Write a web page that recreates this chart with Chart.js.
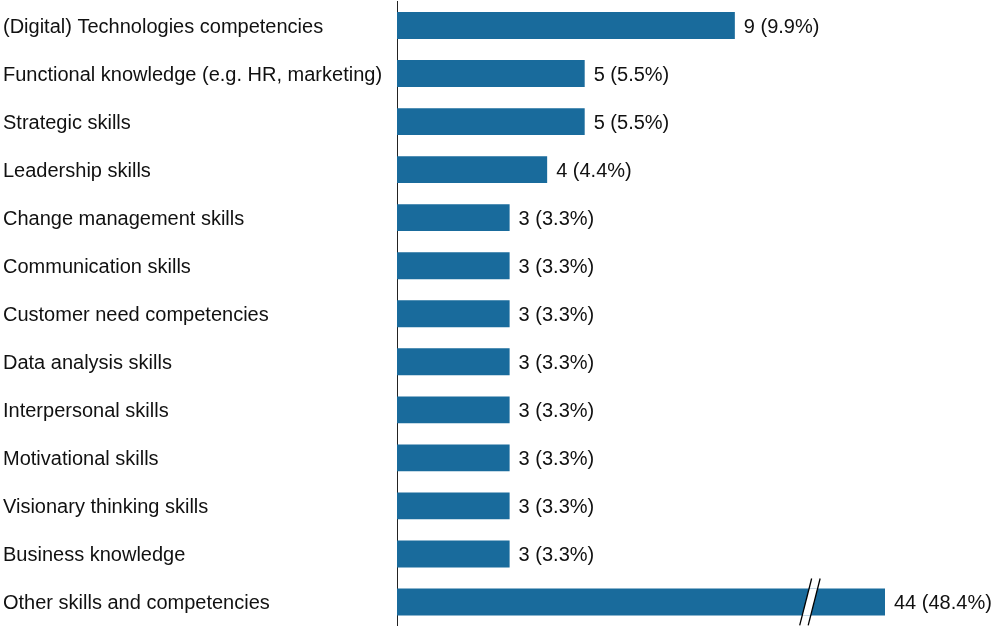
<!DOCTYPE html>
<html>
<head>
<meta charset="utf-8">
<title>Competencies</title>
<script src="https://cdn.jsdelivr.net/npm/chart.js@4/dist/chart.umd.min.js"></script>
<style>
  html, body { margin: 0; padding: 0; background: #ffffff; }
  #wrap { width: 993px; height: 626px; }
</style>
</head>
<body>
<div id="wrap"><canvas id="chart" width="993" height="626"></canvas></div>
<script>
// Competencies named, with the number of mentions for each
const categories = [
  '(Digital) Technologies competencies',
  'Functional knowledge (e.g. HR, marketing)',
  'Strategic skills',
  'Leadership skills',
  'Change management skills',
  'Communication skills',
  'Customer need competencies',
  'Data analysis skills',
  'Interpersonal skills',
  'Motivational skills',
  'Visionary thinking skills',
  'Business knowledge',
  'Other skills and competencies'
];
const counts = [9, 5, 5, 4, 3, 3, 3, 3, 3, 3, 3, 3, 44];

// Visible axis range; longer bars are cut at the edge and marked with a break
const axisMin = 0;
const axisMax = 13;
const breakAt = 11;

const barColor = '#196b9c';
const textColor = '#111111';
const fontFamily = '"Liberation Sans", Arial, Helvetica, sans-serif';
const fontSize = 20;
const textDrop = 2;   // optical centring of the text against the bars

const total = counts.reduce((a, b) => a + b, 0);

// Category names, left-aligned in the space left of the axis
const categoryLabels = {
  id: 'categoryLabels',
  afterDraw(chart) {
    const { ctx } = chart;
    const ys = chart.scales.y;
    ctx.save();
    ctx.font = fontSize + 'px ' + fontFamily;
    ctx.fillStyle = textColor;
    ctx.textAlign = 'left';
    ctx.textBaseline = 'middle';
    ys.ticks.forEach((t, i) => {
      ctx.fillText(ys.getLabelForValue(t.value), ys.left, ys.getPixelForTick(i) + textDrop);
    });
    ctx.restore();
  }
};

// Value labels "n (p%)" to the right of each bar
const valueLabels = {
  id: 'valueLabels',
  afterDatasetsDraw(chart) {
    const { ctx, chartArea } = chart;
    const meta = chart.getDatasetMeta(0);
    ctx.save();
    ctx.font = fontSize + 'px ' + fontFamily;
    ctx.fillStyle = textColor;
    ctx.textAlign = 'left';
    ctx.textBaseline = 'middle';
    meta.data.forEach((bar, i) => {
      const v = counts[i];
      const pct = (v / total * 100).toFixed(1);
      const x = Math.min(bar.x, chartArea.right) + 9;
      ctx.fillText(v + ' (' + pct + '%)', x, bar.y + textDrop);
    });
    ctx.restore();
  }
};

// Break marks "//" on bars that run past the end of the axis
const axisBreak = {
  id: 'axisBreak',
  afterDatasetsDraw(chart) {
    const { ctx } = chart;
    const xs = chart.scales.x;
    const meta = chart.getDatasetMeta(0);
    meta.data.forEach((bar, i) => {
      if (counts[i] <= axisMax) return;
      const cx = xs.getPixelForValue(breakAt);
      const cy = bar.y;
      const half = bar.height / 2;
      const ext = half + 10;
      const slope = 0.255;      // horizontal shift per pixel of height
      const gap = 8.5;          // distance between the two strokes
      ctx.save();
      // white gap across the bar
      ctx.fillStyle = '#ffffff';
      ctx.beginPath();
      ctx.moveTo(cx - gap / 2 + slope * half, cy - half);
      ctx.lineTo(cx + gap / 2 + slope * half, cy - half);
      ctx.lineTo(cx + gap / 2 - slope * half, cy + half);
      ctx.lineTo(cx - gap / 2 - slope * half, cy + half);
      ctx.closePath();
      ctx.fill();
      // the two strokes
      ctx.strokeStyle = '#000000';
      ctx.lineWidth = 1.3;
      [-gap / 2, gap / 2].forEach(off => {
        ctx.beginPath();
        ctx.moveTo(cx + off + slope * ext, cy - ext);
        ctx.lineTo(cx + off - slope * ext, cy + ext);
        ctx.stroke();
      });
      ctx.restore();
    });
  }
};

new Chart(document.getElementById('chart'), {
  type: 'bar',
  data: {
    labels: categories,
    datasets: [{
      data: counts,
      backgroundColor: barColor,
      borderWidth: 0,
      categoryPercentage: 1,
      barPercentage: 0.56,
      clip: 0
    }]
  },
  options: {
    indexAxis: 'y',
    responsive: false,
    animation: false,
    devicePixelRatio: 1,
    layout: { padding: { left: 3, right: 108, top: 1.5, bottom: 0 } },
    plugins: {
      legend: { display: false },
      tooltip: { enabled: false }
    },
    scales: {
      x: {
        display: false,
        min: axisMin,
        max: axisMax
      },
      y: {
        grid: { display: false, drawTicks: false },
        border: { display: true, color: '#222222', width: 1 },
        ticks: { display: false },
        afterFit(scale) {
          scale.width = 394;
          scale.paddingTop = 0;
          scale.paddingBottom = 0;
        }
      }
    }
  },
  plugins: [valueLabels, axisBreak, categoryLabels]
});
</script>
</body>
</html>
